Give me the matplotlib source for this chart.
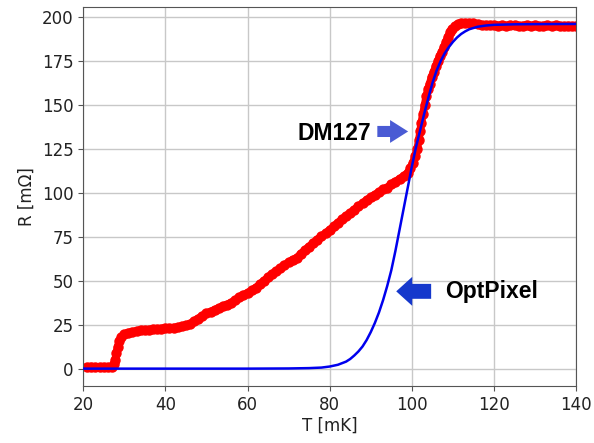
"""Superconducting transition R(T): DM127 measurement vs OptPixel model."""

import matplotlib
matplotlib.use("Agg")
import matplotlib.pyplot as plt
from matplotlib.patches import FancyArrow

plt.rcParams["font.family"] = ["DejaVu Sans"]

# measured DM127 points (T in mK, R in mOhm)
dm_t = [21, 22, 23, 24, 25, 26, 27, 27.5, 27.8, 28.1, 28.4, 28.8, 29.3, 30,
        31, 32, 33, 34, 35, 36, 37, 38, 39, 40, 41, 42, 43, 44, 45, 46, 47,
        48, 49, 50, 51, 52, 53, 54, 55, 56, 57, 58, 59, 60, 61, 62, 63, 64,
        65, 66, 67, 68, 69, 70, 71, 72, 73, 74, 75, 76, 77, 78, 79, 80, 81,
        82, 83, 84, 85, 86, 87, 88, 89, 90, 91, 92, 93, 94, 95, 96, 97, 98,
        99, 99.6, 100.2, 100.8, 101.3, 101.7, 102.0, 102.3, 102.7, 103.1,
        103.5, 103.9, 104.3, 104.8, 105.3, 105.8, 106.3, 106.8, 107.3, 107.8,
        108.3, 108.8, 109.3, 109.8, 110.5, 111.2, 112, 113, 114, 115, 116,
        117, 118, 119, 120, 121, 122, 123, 124, 125, 126, 127, 128, 129, 130,
        131, 132, 133, 134, 135, 136, 137, 138, 139, 140]
dm_r = [1.0, 1.2, 0.8, 1.0, 1.1, 0.9, 1.2, 2.5, 5, 9, 12.5, 15.5, 18, 19.5,
        20.5, 21, 21.5, 21.8, 22, 22.2, 22.4, 22.6, 22.8, 23, 23.2, 23.4,
        23.6, 24, 24.6, 25.5, 27, 28.5, 30, 31.5, 32.5, 33.5, 34.5, 35.5,
        36.5, 37.5, 39, 40.5, 42, 43, 44.5, 46, 48, 50, 52, 54, 55.5, 57, 59,
        60.5, 62, 63, 65.5, 67.5, 69.5, 71.5, 73.5, 75.5, 77, 79, 81, 83, 85,
        87, 88.5, 90.5, 92.5, 94, 96, 97.5, 99, 100.5, 102, 103, 105, 106.5,
        108, 109.5, 111.5, 114, 117, 121, 125, 130, 135, 140, 145, 150, 155,
        159, 162, 166, 169, 172, 175, 178, 180.5, 183, 186, 189, 191.5, 193.5,
        195, 196, 196.5, 196.8, 196.6, 196.5, 196.0, 195.6, 195.8, 195.4,
        195.7, 195.3, 195.6, 195.2, 195.5, 195.4, 195.0, 195.3, 195.6, 195.2,
        195.4, 195.0, 195.3, 195.5, 195.1, 195.4, 195.2, 195.0, 195.3, 195.1,
        195.2]

# OptPixel model curve
op_t = [20, 40, 60, 70, 75, 78, 80, 82, 84, 85, 86, 87, 88, 89, 90, 91, 92,
        93, 94, 95, 96, 97, 98, 99, 100, 101, 102, 103, 104, 105, 106, 107,
        108, 109, 110, 111, 112, 113, 114, 116, 118, 120, 125, 130, 140]
op_r = [0, 0, 0, 0.1, 0.3, 0.6, 1.2, 2.2, 4, 5.5, 7.5, 9.8, 12.6, 16.3, 20.8,
        26, 32, 39, 47, 56, 67, 79, 91, 103, 115, 126, 135.5, 145, 154,
        162.5, 169.5, 175, 179.5, 183, 186, 188.5, 190.5, 192, 193.2, 194.6,
        195.3, 195.7, 196, 196.1, 196.2]

fig = plt.figure(figsize=(5.94, 4.43), dpi=100)
ax = fig.add_axes([0.14, 0.129, 0.83, 0.855])

ax.plot(dm_t, dm_r, "-", color="red", lw=5.5, solid_capstyle="round",
        zorder=2)
ax.plot(dm_t, dm_r, "o", color="red", markersize=6.5, zorder=2)
ax.plot(op_t, op_r, "-", color="#0000ee", lw=1.8, zorder=3)

ax.set_xlim(20, 140)
ax.set_ylim(-9.8, 205.8)
ax.set_xticks(range(20, 141, 20))
ax.set_yticks(range(0, 201, 25))
ax.grid(True, color="#c8c8c8", lw=1.0)
ax.set_axisbelow(True)
for sp in ax.spines.values():
    sp.set_color("#555555")
ax.tick_params(labelsize=12, colors="#555555", labelcolor="#222222")
ax.set_xlabel("T [mK]", fontsize=12, color="#222222", labelpad=2)
ax.set_ylabel("R [m\u03a9]", fontsize=12, color="#222222", labelpad=4)

# annotations
bold = dict(family="Liberation Sans", weight="bold", fontsize=16.5)
ax.text(90.1, 133.8, "DM127", ha="right", va="center", **bold)
ax.add_patch(FancyArrow(91.6, 135, 7.5, 0, width=6.3, head_width=13,
                        head_length=4.4, length_includes_head=True,
                        color="#4a5bd4", lw=0, zorder=4))
ax.text(108.1, 43.8, "OptPixel", ha="left", va="center", **bold)
ax.add_patch(FancyArrow(104.7, 44, -8.5, 0, width=8.5, head_width=16.5,
                        head_length=3.9, length_includes_head=True,
                        color="#1538cc", lw=0, zorder=4))

fig.savefig("out.png", dpi=100)
